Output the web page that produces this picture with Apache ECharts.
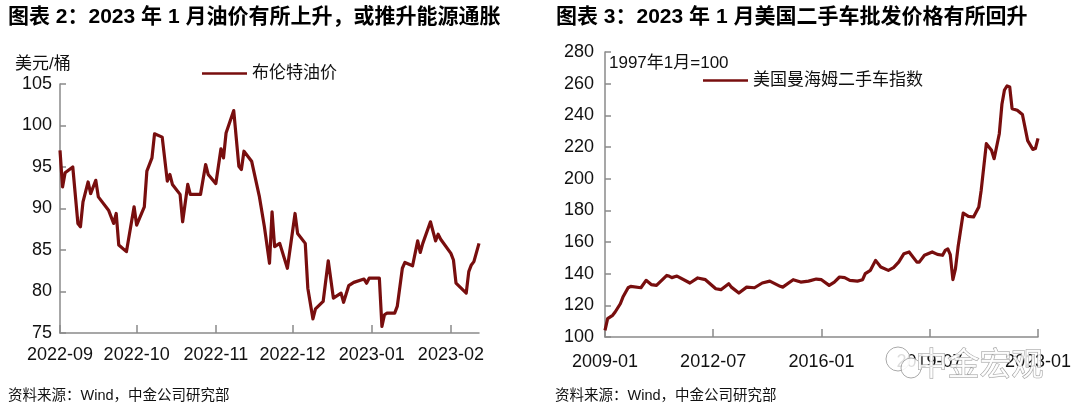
<!DOCTYPE html>
<html>
<head>
<meta charset="utf-8">
<script src="https://cdn.jsdelivr.net/npm/echarts@6/dist/echarts.min.js"></script>
<style>
html,body{margin:0;padding:0;background:#fff;}
#c{width:1080px;height:408px;}
</style>
</head>
<body>
<div id="c"></div>
<script>
// ---------- data: left chart (Brent, USD/bbl) ----------
const oilDates = ['2022-09-01','2022-09-02','2022-09-03','2022-09-06','2022-09-08','2022-09-09','2022-09-10','2022-09-12','2022-09-13','2022-09-15','2022-09-16','2022-09-20','2022-09-22','2022-09-23','2022-09-24','2022-09-27','2022-09-30','2022-10-01','2022-10-04','2022-10-05','2022-10-07','2022-10-08','2022-10-11','2022-10-13','2022-10-14','2022-10-15','2022-10-18','2022-10-19','2022-10-21','2022-10-22','2022-10-26','2022-10-28','2022-10-29','2022-11-01','2022-11-03','2022-11-04','2022-11-05','2022-11-08','2022-11-10','2022-11-11','2022-11-12','2022-11-15','2022-11-18','2022-11-20','2022-11-22','2022-11-23','2022-11-24','2022-11-26','2022-11-29','2022-12-02','2022-12-03','2022-12-06','2022-12-07','2022-12-09','2022-12-10','2022-12-13','2022-12-15','2022-12-17','2022-12-20','2022-12-21','2022-12-23','2022-12-25','2022-12-29','2022-12-30','2022-12-31','2023-01-04','2023-01-05','2023-01-06','2023-01-07','2023-01-10','2023-01-11','2023-01-13','2023-01-14','2023-01-17','2023-01-19','2023-01-20','2023-01-21','2023-01-24','2023-01-26','2023-01-27','2023-01-28','2023-02-01','2023-02-02','2023-02-03','2023-02-07','2023-02-08','2023-02-09','2023-02-10','2023-02-12'];
const oilValues = [97.0,92.6,94.3,95.0,88.2,87.8,90.8,93.2,91.8,93.4,91.4,89.8,88.2,89.4,85.6,84.8,90.2,88.0,90.2,94.5,96.1,99.0,98.6,93.3,94.1,92.9,91.7,88.4,92.9,91.7,91.7,95.3,94.1,93.0,97.2,96.1,99.1,101.8,95.1,94.7,96.9,95.7,91.5,87.8,83.4,89.6,85.4,85.8,82.8,89.4,87.0,85.8,80.4,76.7,77.9,78.8,83.7,79.2,79.8,78.7,80.7,81.1,81.5,81.0,81.6,81.6,75.8,77.2,77.4,77.4,78.2,82.8,83.5,83.1,86.1,84.7,85.8,88.4,86.1,86.9,86.3,84.6,83.8,81.0,79.8,82.4,83.2,83.6,85.8];
const oilTickDates = ['2022-09-01','2022-10-01','2022-11-01','2022-12-01','2023-01-01','2023-02-01'];
const oilRange = ['2022-09-01','2023-02-12'];
const oilY = {min:75, max:105, step:5};

// ---------- data: right chart (Manheim index, 1997-01=100) ----------
const carDates = ['2009-01','2009-02','2009-04','2009-05','2009-07','2009-08','2009-10','2009-11','2010-03','2010-05','2010-07','2010-09','2011-01','2011-02','2011-03','2011-05','2011-10','2012-01','2012-04','2012-08','2012-10','2013-01','2013-02','2013-05','2013-08','2013-11','2014-02','2014-05','2014-09','2014-10','2015-02','2015-05','2015-08','2015-11','2016-01','2016-04','2016-06','2016-08','2016-10','2016-12','2017-03','2017-05','2017-06','2017-08','2017-10','2017-12','2018-03','2018-05','2018-07','2018-09','2018-11','2019-02','2019-03','2019-05','2019-08','2019-10','2019-12','2020-01','2020-02','2020-03','2020-04','2020-05','2020-06','2020-08','2020-10','2020-12','2021-02','2021-03','2021-05','2021-07','2021-08','2021-10','2021-11','2021-12','2022-01','2022-02','2022-03','2022-05','2022-07','2022-09','2022-11','2022-12','2023-01'];
const carValues = [104.2,111.6,113.7,115.8,121.0,125.2,131.1,132.0,131.1,135.8,133.1,132.6,138.9,138.3,137.5,138.5,134.1,137.3,136.2,130.5,129.9,133.7,131.5,127.8,131.5,131.1,134.1,135.3,132.0,131.5,136.2,134.7,135.3,136.6,136.2,132.6,134.7,137.9,137.5,135.8,135.3,136.2,140.0,142.1,148.4,144.2,142.1,143.8,147.3,152.6,153.7,147.3,147.3,151.6,153.7,152.2,151.6,154.7,155.6,152.0,136.2,143.0,156.8,178.3,176.2,175.8,182.1,192.6,222.1,217.9,212.6,228.4,247.0,256.0,258.6,257.9,244.2,243.2,240.5,224.0,218.5,219.0,225.5];
const carTickDates = ['2009-01-01','2012-07-01','2016-01-01','2019-07-01','2023-01-01'];
const carRange = ['2009-01-01','2023-01-01'];
const carY = {min:100, max:280, step:20};

// ---------- texts ----------
const titleLeft = '图表 2：2023 年 1 月油价有所上升，或推升能源通胀';
const titleRight = '图表 3：2023 年 1 月美国二手车批发价格有所回升';
const source = '资料来源：Wind，中金公司研究部';
const nameOil = '布伦特油价';
const nameCar = '美国曼海姆二手车指数';
const unitOil = '美元/桶';
const noteCar = '1997年1月=100';
const watermark = '中金宏观';

// ---------- helpers ----------
function ts(s){ const p = s.split('-').map(Number); return new Date(p[0], p[1]-1, p[2]||1).getTime(); }
function ym(v){ const d = new Date(v); return d.getFullYear() + '-' + String(d.getMonth()+1).padStart(2,'0'); }

const FONT = "'Liberation Sans', Arial, 'Noto Sans CJK SC', sans-serif";
const LINE = '#780e0e';
const AXIS = '#8a8a8a';
const TXT = '#111';

function xAxisCfg(grid, range, ticks, margin){
  const tv = ticks.map(ts);
  return {
    type:'value', gridIndex:grid, min:ts(range[0]), max:ts(range[1]), scale:true,
    axisLine:{show:true, lineStyle:{color:AXIS, width:1.5}},
    axisTick:{show:true, inside:true, length:8, lineStyle:{color:AXIS, width:1.5}, customValues:tv},
    axisLabel:{show:true, customValues:tv, formatter:ym, color:TXT, fontSize:18, fontFamily:FONT, margin:margin, hideOverlap:false},
    splitLine:{show:false}, minorTick:{show:false}
  };
}
function yAxisCfg(grid, cfg, margin){
  return {
    type:'value', gridIndex:grid, min:cfg.min, max:cfg.max, interval:cfg.step,
    axisLine:{show:true, lineStyle:{color:AXIS, width:1.5}},
    axisTick:{show:true, inside:true, length:6, lineStyle:{color:AXIS, width:1.5}},
    axisLabel:{color:TXT, fontSize:18, fontFamily:FONT, margin:margin},
    splitLine:{show:false}
  };
}

const chart = echarts.init(document.getElementById('c'), null, {renderer:'canvas'});
chart.setOption({
  animation:false,
  backgroundColor:'#fff',
  textStyle:{fontFamily:FONT},
  grid:[
    {left:60, right:601, top:84, bottom:75},
    {left:605, right:42, top:52, bottom:71}
  ],
  xAxis:[ xAxisCfg(0, oilRange, oilTickDates, 13), xAxisCfg(1, carRange, carTickDates, 16) ],
  yAxis:[ yAxisCfg(0, oilY, 8), yAxisCfg(1, carY, 11) ],
  legend:[
    {data:[nameOil], left:197, top:60, itemWidth:45, itemHeight:14, icon:'path://M0,6 L45,6 L45,8.5 L0,8.5 Z', itemStyle:{color:LINE},
     textStyle:{fontSize:17, color:TXT, fontFamily:FONT}},
    {data:[nameCar], left:698, top:67, itemWidth:45, itemHeight:14, icon:'path://M0,6 L45,6 L45,8.5 L0,8.5 Z', itemStyle:{color:LINE},
     textStyle:{fontSize:17, color:TXT, fontFamily:FONT}}
  ],
  series:[
    {name:nameOil, type:'line', xAxisIndex:0, yAxisIndex:0, symbol:'none', smooth:false,
     lineStyle:{color:LINE, width:3.2, join:'round'}, itemStyle:{color:LINE},
     data:oilDates.map((d,i)=>[ts(d), oilValues[i]])},
    {name:nameCar, type:'line', xAxisIndex:1, yAxisIndex:1, symbol:'none', smooth:false,
     lineStyle:{color:LINE, width:3.2, join:'round'}, itemStyle:{color:LINE},
     data:carDates.map((d,i)=>[ts(d), carValues[i]])}
  ],
  graphic:[
    {type:'text', left:8, top:7, style:{text:titleLeft, fontSize:21, fontWeight:'bold', fill:'#000', fontFamily:FONT}},
    {type:'text', left:556, top:7, style:{text:titleRight, fontSize:21, fontWeight:'bold', fill:'#000', fontFamily:FONT}},
    {type:'text', left:15, top:56, style:{text:unitOil, fontSize:17, fill:TXT, fontFamily:FONT}},
    {type:'text', left:609, top:55, style:{text:noteCar, fontSize:17, fill:TXT, fontFamily:FONT}},
    {type:'text', left:8, top:389, style:{text:source, fontSize:14.5, fill:TXT, fontFamily:FONT}},
    {type:'text', left:555, top:389, style:{text:source, fontSize:14.5, fill:TXT, fontFamily:FONT}},
    {type:'circle', z:100, shape:{cx:898, cy:359, r:12}, style:{fill:'rgba(255,255,255,0.85)', stroke:'#aaa', lineWidth:1}},
    {type:'circle', z:100, shape:{cx:911, cy:368, r:10}, style:{fill:'rgba(255,255,255,0.85)', stroke:'#aaa', lineWidth:1}},
    {type:'text', z:101, left:915, top:346, style:{text:watermark, fontSize:32, fill:'rgba(255,255,255,0.85)', stroke:'#9a9a9a', lineWidth:1, fontFamily:"'Noto Sans CJK SC', sans-serif"}}
  ]
});
</script>
</body>
</html>
